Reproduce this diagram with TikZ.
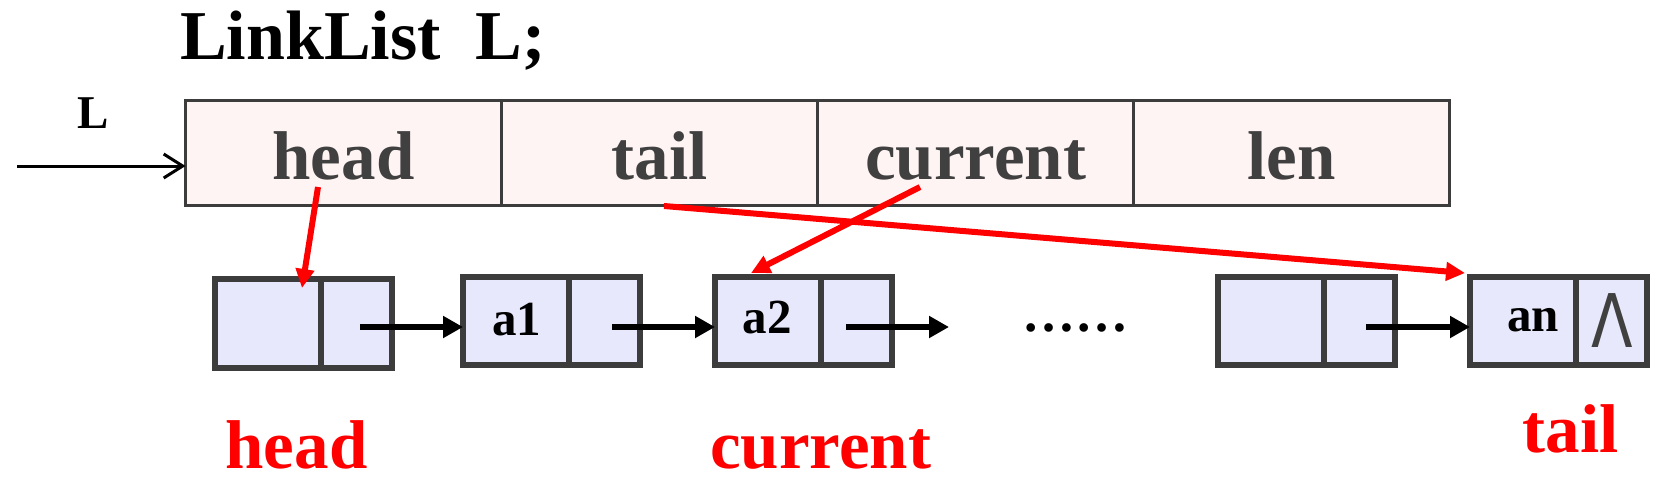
\documentclass[tikz,border=0pt]{standalone}
\usepackage{fontspec}
\setmainfont{Liberation Serif}
\newfontfamily\dsans{DejaVu Sans}
\usetikzlibrary{arrows.meta}
\definecolor{boxgray}{HTML}{3C3C3C}
\definecolor{txtgray}{HTML}{404040}
\definecolor{pinkfill}{HTML}{FFF4F4}
\definecolor{lavfill}{HTML}{E8E8FC}
\begin{document}
\begin{tikzpicture}[x=1pt,y=-1pt,
  fieldbox/.style={draw=boxgray, line width=3pt, fill=pinkfill, minimum width=316pt, minimum height=105pt, inner sep=0pt, outer sep=0pt},
  leftcell/.style={draw=boxgray, line width=6pt, fill=lavfill, minimum width=106pt, minimum height=88.5pt, inner sep=0pt, outer sep=0pt},
  rightcell/.style={draw=boxgray, line width=6pt, fill=lavfill, minimum width=71pt, minimum height=88.5pt, inner sep=0pt, outer sep=0pt},
  fieldtext/.style={font=\bfseries\fontsize{69}{69}\selectfont, text=txtgray, inner sep=0pt, anchor=base},
  celltext/.style={font=\bfseries\fontsize{49}{49}\selectfont, text=black, inner sep=0pt, anchor=base},
  redlabel/.style={font=\bfseries\fontsize{69}{69}\selectfont, text=red, inner sep=0pt, anchor=base},
  nextarrow/.style={draw=black, line width=6.5pt, -{Triangle[length=20pt,width=21pt]}},
  ptrarrow/.style={draw=red, line width=6pt, -{Triangle[length=19pt,width=18pt]}},
]
\useasboundingbox (0,0) rectangle (1672,483);
\fill[white] (0,0) rectangle (1672,483);

% title
\node[font=\bfseries\fontsize{70}{70}\selectfont, inner sep=0pt, anchor=base west] (title) at (180,59) {LinkList\ \ L;};
\node[font=\bfseries\fontsize{47}{47}\selectfont, inner sep=0pt, anchor=base] (Llab) at (93,128) {L};

% structure fields
\node[fieldbox] (fh) at (343.5,153) {};
\node[fieldbox] (ft) at (659.5,153) {};
\node[fieldbox] (fc) at (975.5,153) {};
\node[fieldbox] (fl) at (1291.5,153) {};
\node[fieldtext] (fhtxt) at (343.5,179) {head};
\node[fieldtext] (fttxt) at (659.5,179) {tail};
\node[fieldtext] (fctxt) at (975.5,179) {current};
\node[fieldtext] (fltxt) at (1291.5,179) {len};

% pointer L
\coordinate (Lstart) at (17,166);
\draw[line width=3pt, -{Straight Barb[length=19pt,width=24pt]}] (Lstart) -- ([yshift=-13pt]fh.west);

% list nodes
\node[leftcell]  (n0l) at (268,323.5) {};
\node[rightcell] (n0r) at (356.5,323.5) {};
\node[leftcell]  (n1l) at (516,321) {};
\node[rightcell] (n1r) at (604.5,321) {};
\node[leftcell]  (n2l) at (768,321) {};
\node[rightcell] (n2r) at (856.5,321) {};
\node[leftcell]  (n3l) at (1271,321) {};
\node[rightcell] (n3r) at (1359.5,321) {};
\node[leftcell]  (n4l) at (1523,321) {};
\node[rightcell] (n4r) at (1611.5,321) {};

\node[celltext] (a1) at (516.5,335) {a1};
\node[celltext] (a2) at (767,333) {a2};
\node[celltext] (an) at (1533,331) {an};
\node[font=\dsans\fontsize{74}{74}\selectfont, text=txtgray, inner sep=0pt, anchor=base] (nil) at (1612.5,347) {\scalebox{0.82}[1]{Λ}};

\node[font=\bfseries\fontsize{53}{53}\selectfont, inner sep=0pt, anchor=base] (dots) at (1075.5,331.5) {……};

% next arrows
\draw[nextarrow] ([shift={(3.5,3.5)}]n0r.center) -- ([yshift=-6pt]n1l.west);
\draw[nextarrow] ([shift={(7.5,6)}]n1r.center) -- ([yshift=-6pt]n2l.west);
\coordinate (n2end) at (949,327);
\draw[nextarrow] ([shift={(-10.5,6)}]n2r.center) -- (n2end);
\draw[nextarrow] ([shift={(6.5,6)}]n3r.center) -- ([yshift=-6pt]n4l.west);

% red pointers
\draw[ptrarrow] ([shift={(-25.5,34)}]fh.center) -- ([shift={(34,-35.5)}]n0l.center);
\draw[ptrarrow] ([shift={(-55.5,34)}]fc.center) -- ([shift={(-17,-48)}]n2l.center);
\draw[ptrarrow] ([shift={(4.5,53)}]ft.center) -- ([shift={(-58,-48)}]n4l.center);

% red labels
\node[redlabel] (hlab) at (296.5,468) {head};
\node[redlabel] (clab) at (820.5,468) {current};
\node[redlabel] (tlab) at (1570.5,452) {tail};
\end{tikzpicture}
\end{document}
